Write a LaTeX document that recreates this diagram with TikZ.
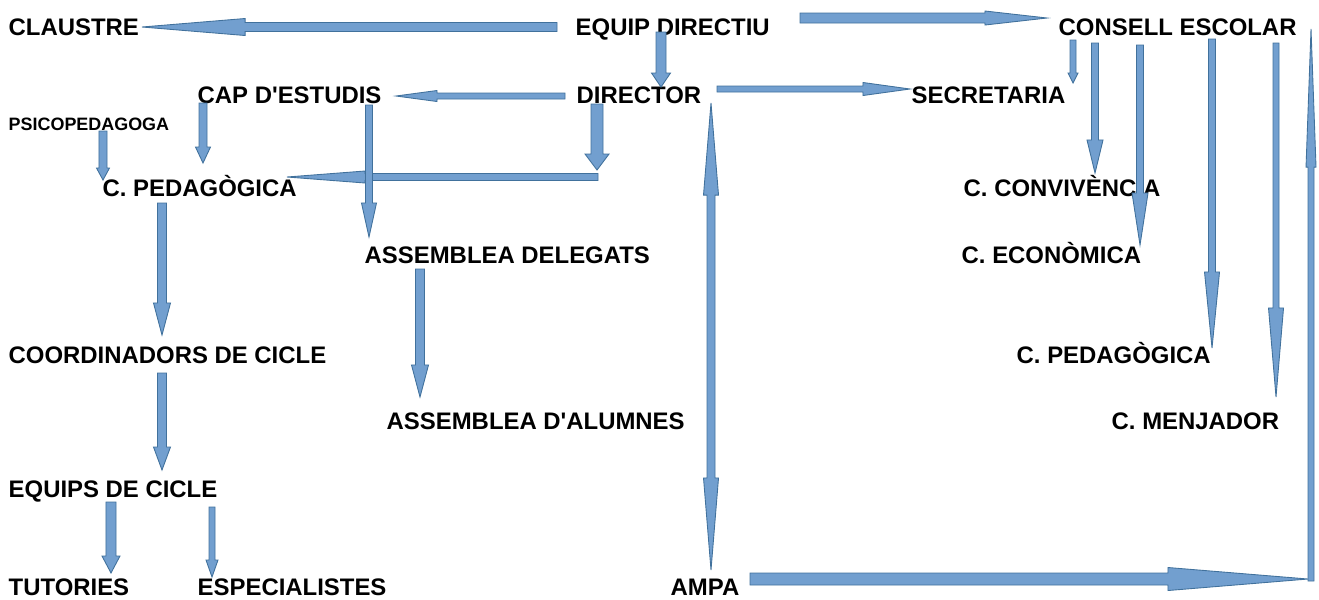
\documentclass[tikz,border=0pt]{standalone}
\usepackage{fontspec}
\setmainfont{Liberation Sans}
\usetikzlibrary{calc}

\definecolor{arrfill}{RGB}{114,159,207}
\definecolor{arrline}{RGB}{65,113,156}

\tikzset{
  lbl/.style={anchor=west, inner sep=0pt, text height=4.87pt, text depth=0pt,
    font=\fontsize{6.8}{8}\selectfont\bfseries},
  smalllbl/.style={lbl, text height=3.65pt, font=\fontsize{5.1}{6}\selectfont\bfseries},
  arrbody/.style={fill=arrfill, draw=arrline, line width=0.25pt, line join=miter}
}

\newcommand\pxu{0.28453pt}
% #1 from, #2 to, #3 shaft width, #4 head width, #5 head length (px)
\newcommand\blkarrow[5]{%
  \path #1; \pgfgetlastxy{\bxa}{\bya}
  \path #2; \pgfgetlastxy{\bxb}{\byb}
  \pgfmathsetmacro\baang{atan2(\byb-\bya,\bxb-\bxa)}
  \pgfmathsetmacro\balen{veclen(\bxb-\bxa,\byb-\bya)}
  \begin{scope}[shift={(\bxa,\bya)}, rotate=\baang]
    \draw[arrbody] (0pt,{#3/2*\pxu}) -- ({\balen pt-#5*\pxu},{#3/2*\pxu})
      -- ({\balen pt-#5*\pxu},{#4/2*\pxu}) -- (\balen pt,0pt)
      -- ({\balen pt-#5*\pxu},{-#4/2*\pxu}) -- ({\balen pt-#5*\pxu},{-#3/2*\pxu})
      -- (0pt,{-#3/2*\pxu}) -- cycle;
  \end{scope}
}
\newcommand\dblkarrow[5]{%
  \path #1; \pgfgetlastxy{\bxa}{\bya}
  \path #2; \pgfgetlastxy{\bxb}{\byb}
  \pgfmathsetmacro\baang{atan2(\byb-\bya,\bxb-\bxa)}
  \pgfmathsetmacro\balen{veclen(\bxb-\bxa,\byb-\bya)}
  \begin{scope}[shift={(\bxa,\bya)}, rotate=\baang]
    \draw[arrbody] (0pt,0pt) -- ({#5*\pxu},{#4/2*\pxu}) -- ({#5*\pxu},{#3/2*\pxu})
      -- ({\balen pt-#5*\pxu},{#3/2*\pxu}) -- ({\balen pt-#5*\pxu},{#4/2*\pxu})
      -- (\balen pt,0pt)
      -- ({\balen pt-#5*\pxu},{-#4/2*\pxu}) -- ({\balen pt-#5*\pxu},{-#3/2*\pxu})
      -- ({#5*\pxu},{-#3/2*\pxu}) -- ({#5*\pxu},{-#4/2*\pxu}) -- cycle;
  \end{scope}
}

\begin{document}
\begin{tikzpicture}[x=0.01cm, y=-0.01cm]
    \useasboundingbox (0,0) rectangle (1319,599);

    \node[lbl] (claustre) at (8,27) {CLAUSTRE};
    \node[lbl] (equip) at (575,27) {EQUIP DIRECTIU};
    \node[lbl] (consell) at (1058,27) {CONSELL ESCOLAR};
    \node[lbl] (cap) at (197,95) {CAP D\textquotesingle ESTUDIS};
    \node[lbl] (director) at (576,95) {DIRECTOR};
    \node[lbl] (secretaria) at (911,95) {SECRETARIA};
    \node[smalllbl] (psico) at (8,124) {PSICOPEDAGOGA};
    \node[lbl] (cpedl) at (102,188) {C. PEDAGÒGICA};
    \node[lbl] (conviv) at (963,188) {C. CONVIVÈNCIA};
    \node[lbl] (adeleg) at (364,255) {ASSEMBLEA DELEGATS};
    \node[lbl] (econ) at (961,255) {C. ECONÒMICA};
    \node[lbl] (coord) at (8,355) {COORDINADORS DE CICLE};
    \node[lbl] (cpedr) at (1016,355) {C. PEDAGÒGICA};
    \node[lbl] (aalum) at (386,421) {ASSEMBLEA D\textquotesingle ALUMNES};
    \node[lbl] (menj) at (1111,421) {C. MENJADOR};
    \node[lbl] (equips) at (8,489) {EQUIPS DE CICLE};
    \node[lbl] (tut) at (8,587) {TUTORIES};
    \node[lbl] (espec) at (197,587) {ESPECIALISTES};
    \node[lbl] (ampa) at (670,587) {AMPA};

    \coordinate (junction) at ($(director.west)+(22,82)$);
    \coordinate (corner) at ($(ampa.west)+(641,-6)$);

    \blkarrow{($(equip.west)+(-18,0)$)}{($(claustre.west)+(134,0)$)}{9}{17}{103}
    \blkarrow{($(equip.west)+(225,-9)$)}{($(consell.west)+(-11,-9)$)}{10}{14}{62}
    \blkarrow{($(equip.west)+(86,5)$)}{($(director.west)+(85,-8)$)}{10}{19}{14}
    \blkarrow{($(director.west)+(-11,1)$)}{($(cap.west)+(199,1)$)}{6}{11}{41}
    \blkarrow{($(director.west)+(141,-6)$)}{($(secretaria.west)+(-1,-6)$)}{6}{13}{47}
    \blkarrow{(junction)}{($(cpedl.west)+(185,-11)$)}{7}{12}{78}
    \blkarrow{($(director.west)+(21,9)$)}{($(junction)+(-1,-7)$)}{12}{24}{16}
    \blkarrow{($(cap.west)+(172,10)$)}{($(adeleg.west)+(5,-18)$)}{7}{15}{34}
    \blkarrow{($(cap.west)+(6,8)$)}{($(cpedl.west)+(101,-25)$)}{8}{15}{16}
    \blkarrow{($(psico.west)+(95,7)$)}{($(cpedl.west)+(1,-8)$)}{8}{13}{12}
    \blkarrow{($(cpedl.west)+(60,15)$)}{($(coord.west)+(154,-20)$)}{9}{17}{32}
    \blkarrow{($(coord.west)+(154,18)$)}{($(equips.west)+(154,-19)$)}{9}{17}{23}
    \blkarrow{($(equips.west)+(103,13)$)}{($(tut.west)+(103,-14)$)}{10}{18}{17}
    \blkarrow{($(equips.west)+(204,18)$)}{($(espec.west)+(15,-10)$)}{6}{12}{17}
    \blkarrow{($(adeleg.west)+(56,14)$)}{($(aalum.west)+(34,-24)$)}{9}{17}{32}
    \dblkarrow{($(ampa.west)+(41,-17)$)}{($(director.west)+(135,8)$)}{8}{15}{92}
    \blkarrow{($(ampa.west)+(80,-8)$)}{($(corner)+(-3,-2)$)}{12}{23}{140}
    \blkarrow{(corner)}{($(consell.west)+(253,2)$)}{6}{10}{138}
    \blkarrow{($(consell.west)+(15,13)$)}{($(secretaria.west)+(162,-12)$)}{6}{10}{10}
    \blkarrow{($(consell.west)+(37,16)$)}{($(conviv.west)+(132,-15)$)}{7}{16}{33}
    \blkarrow{($(consell.west)+(82,18)$)}{($(econ.west)+(179,-10)$)}{7}{16}{52}
    \blkarrow{($(consell.west)+(154,12)$)}{($(cpedr.west)+(196,-7)$)}{7}{15}{76}
    \blkarrow{($(consell.west)+(218,16)$)}{($(menj.west)+(165,-24)$)}{6}{15}{89}
\end{tikzpicture}
\end{document}
